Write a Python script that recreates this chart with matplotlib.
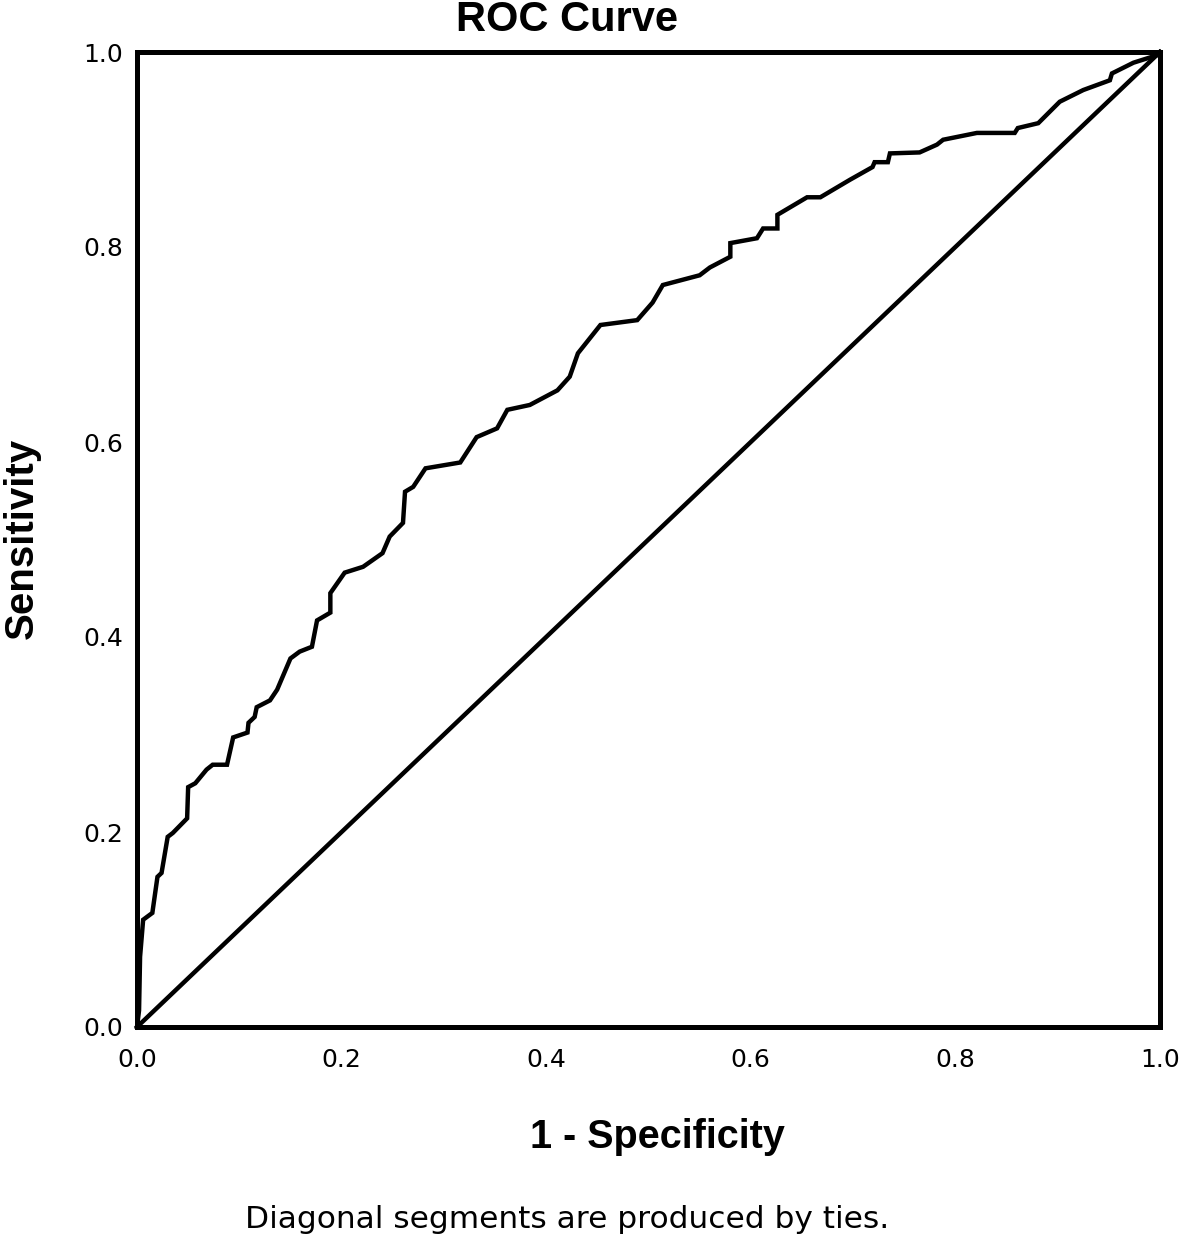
import matplotlib
matplotlib.use("Agg")
import matplotlib.pyplot as plt

# ROC curve points (1 - specificity, sensitivity)
fpr = [0.000, 0.002, 0.003, 0.006, 0.015, 0.020, 0.024, 0.030, 0.035, 0.049, 0.050,
       0.057, 0.068, 0.074, 0.088, 0.094, 0.108, 0.109, 0.115, 0.117, 0.130, 0.137,
       0.150, 0.159, 0.171, 0.176, 0.189, 0.189, 0.203, 0.221, 0.240, 0.247, 0.260,
       0.262, 0.270, 0.282, 0.316, 0.332, 0.352, 0.362, 0.384, 0.411, 0.423, 0.431,
       0.453, 0.489, 0.504, 0.514, 0.550, 0.560, 0.580, 0.580, 0.606, 0.612, 0.626,
       0.626, 0.655, 0.668, 0.697, 0.719, 0.721, 0.734, 0.736, 0.765, 0.782, 0.788,
       0.821, 0.858, 0.861, 0.881, 0.902, 0.925, 0.951, 0.953, 0.974, 0.998, 1.000]
tpr = [0.000, 0.017, 0.072, 0.110, 0.117, 0.154, 0.158, 0.195, 0.199, 0.214, 0.246,
       0.250, 0.264, 0.269, 0.269, 0.297, 0.302, 0.312, 0.318, 0.328, 0.335, 0.346,
       0.378, 0.385, 0.390, 0.417, 0.425, 0.445, 0.466, 0.472, 0.486, 0.503, 0.517,
       0.549, 0.554, 0.573, 0.579, 0.605, 0.614, 0.633, 0.638, 0.653, 0.667, 0.691,
       0.720, 0.725, 0.743, 0.761, 0.771, 0.779, 0.790, 0.804, 0.809, 0.819, 0.819,
       0.833, 0.851, 0.851, 0.869, 0.882, 0.887, 0.887, 0.896, 0.897, 0.905, 0.910,
       0.917, 0.917, 0.922, 0.927, 0.949, 0.961, 0.971, 0.978, 0.989, 0.997, 1.000]
ref_line = [0.0, 1.0]
ticks = [0.0, 0.2, 0.4, 0.6, 0.8, 1.0]
tick_labels = ["0.0", "0.2", "0.4", "0.6", "0.8", "1.0"]

W, H = 1181, 1241
fig = plt.figure(figsize=(W / 100, H / 100), dpi=100)
ax = fig.add_axes([137 / W, 1 - 1027 / H, (1160 - 137) / W, (1027 - 52) / H])

ax.plot(fpr, tpr, color="black", lw=3.2, solid_joinstyle="miter", clip_on=False)
ax.plot(ref_line, ref_line, color="black", lw=3.2, clip_on=False)

ax.set_xlim(0, 1)
ax.set_ylim(0, 1)
for s in ax.spines.values():
    s.set_linewidth(3.6)
    s.set_color("black")
ax.set_xticks(ticks)
ax.set_yticks(ticks)
ax.set_xticklabels(tick_labels, fontfamily="DejaVu Sans", fontsize=18)
ax.set_yticklabels(tick_labels, fontfamily="DejaVu Sans", fontsize=18)
ax.tick_params(axis="y", length=0, pad=10)
ax.tick_params(axis="x", length=0, pad=15)

fig.text(567 / W, 1 - 20 / H, "ROC Curve", ha="center", va="center",
         fontfamily="Liberation Sans", fontweight="bold", fontsize=30)
fig.text(657 / W, 1 - 1137 / H, "1 - Specificity", ha="center", va="center",
         fontfamily="Liberation Sans", fontweight="bold", fontsize=28.5)
fig.text(22 / W, 1 - 538 / H, "Sensitivity", ha="center", va="center", rotation=90,
         fontfamily="Liberation Sans", fontweight="bold", fontsize=29)
fig.text(567 / W, 1 - 1220 / H, "Diagonal segments are produced by ties.",
         ha="center", va="center", fontfamily="DejaVu Sans", fontsize=22.5)

fig.savefig("out.png", dpi=100, facecolor="white")
